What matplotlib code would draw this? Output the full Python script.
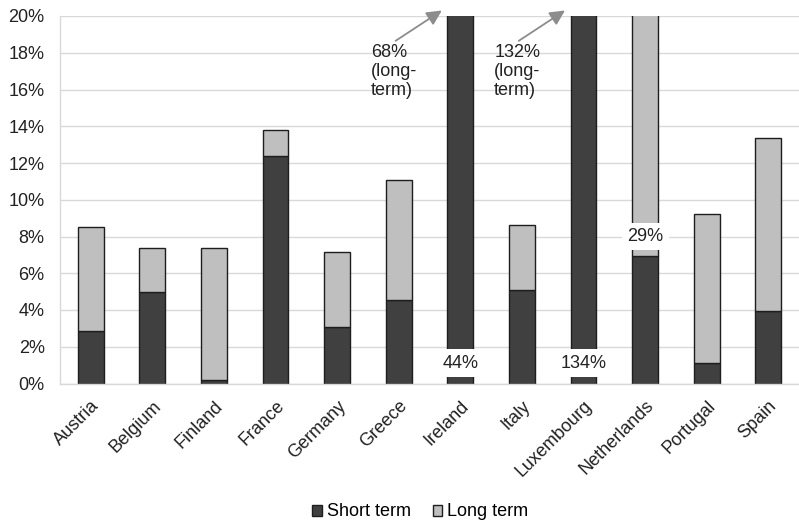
import matplotlib
matplotlib.use("Agg")
import matplotlib.pyplot as plt
from matplotlib.patches import Patch
from matplotlib.ticker import FuncFormatter, MultipleLocator

plt.rcParams["font.family"] = ["Liberation Sans", "DejaVu Sans"]

countries = ["Austria", "Belgium", "Finland", "France", "Germany", "Greece",
             "Ireland", "Italy", "Luxembourg", "Netherlands", "Portugal", "Spain"]
short_term = [2.85, 5.0, 0.2, 12.4, 3.1, 4.55, 44.0, 5.1, 134.0, 6.95, 1.1, 3.95]
long_term = [5.65, 2.4, 7.2, 1.4, 4.05, 6.55, 68.0, 3.55, 132.0, 29.0, 8.15, 9.4]

# values printed as text for bars running off the scale
short_labels = {"Ireland": "44%", "Luxembourg": "134%"}
long_labels = {"Netherlands": "29%"}
long_callouts = {"Ireland": "68%\n(long-\nterm)", "Luxembourg": "132%\n(long-\nterm)"}

dark = "#404040"
light = "#bfbfbf"
edge = "#1e1e1e"
grid = "#d9d9d9"
txt_col = "#222222"
fs = 13

fig = plt.figure(figsize=(7.99, 5.23), dpi=100)
ax = fig.add_axes([60 / 799, 1 - 383.5 / 523, 1 - 60 / 799, (383.5 - 16) / 523])

x = list(range(len(countries)))
w = 0.42
ax.bar(x, short_term, width=w, color=dark, edgecolor=edge, linewidth=1.0, zorder=2)
ax.bar(x, long_term, width=w, bottom=short_term, color=light, edgecolor=edge,
       linewidth=1.0, zorder=2)

ax.set_ylim(0, 20)
ax.set_xlim(-0.5, len(countries) - 0.5)
ax.yaxis.set_major_locator(MultipleLocator(2))
ax.yaxis.set_major_formatter(FuncFormatter(lambda v, p: f"{v:.0f}%"))
ax.yaxis.grid(True, color=grid, linewidth=1.0, zorder=0)
ax.set_axisbelow(True)
for s in ["top", "right"]:
    ax.spines[s].set_visible(False)
for s in ["left", "bottom"]:
    ax.spines[s].set_color(grid)
    ax.spines[s].set_linewidth(1.0)
ax.tick_params(axis="both", length=0, labelsize=fs, colors=txt_col)
ax.tick_params(axis="y", pad=11)
ax.tick_params(axis="x", pad=10)
ax.set_xticks(x)
ax.set_xticklabels(countries, rotation=45, ha="right", va="top", rotation_mode="anchor")

box = dict(boxstyle="square,pad=0.3", facecolor="white", edgecolor="none")
for name, txt in short_labels.items():
    i = countries.index(name)
    ax.text(i, 1.1, txt, ha="center", va="center", fontsize=fs,
            color=txt_col, bbox=box, zorder=4)
for name, txt in long_labels.items():
    i = countries.index(name)
    ax.text(i, 8.0, txt, ha="center", va="center", fontsize=fs,
            color=txt_col, bbox=box, zorder=4)

for name, txt in long_callouts.items():
    i = countries.index(name)
    ax.text(i - 1.45, 18.45, txt, ha="left", va="top", fontsize=fs,
            color=txt_col, linespacing=1.15, zorder=4)
    ax.annotate("", xy=(i - 0.3, 20.3), xytext=(i - 1.05, 18.65),
                annotation_clip=False,
                arrowprops=dict(arrowstyle="-|>,head_length=0.9,head_width=0.45",
                                color="#8c8c8c", lw=1.3, shrinkA=0, shrinkB=0))

handles = [Patch(facecolor=dark, edgecolor=edge, label="Short term"),
           Patch(facecolor=light, edgecolor=edge, label="Long term")]
fig.legend(handles=handles, loc="center", bbox_to_anchor=(0.526, 1 - 512 / 523),
           ncol=2, frameon=False, fontsize=fs, handlelength=0.55,
           handleheight=0.55, handletextpad=0.25, columnspacing=1.2)

fig.savefig("out.png", dpi=100)
